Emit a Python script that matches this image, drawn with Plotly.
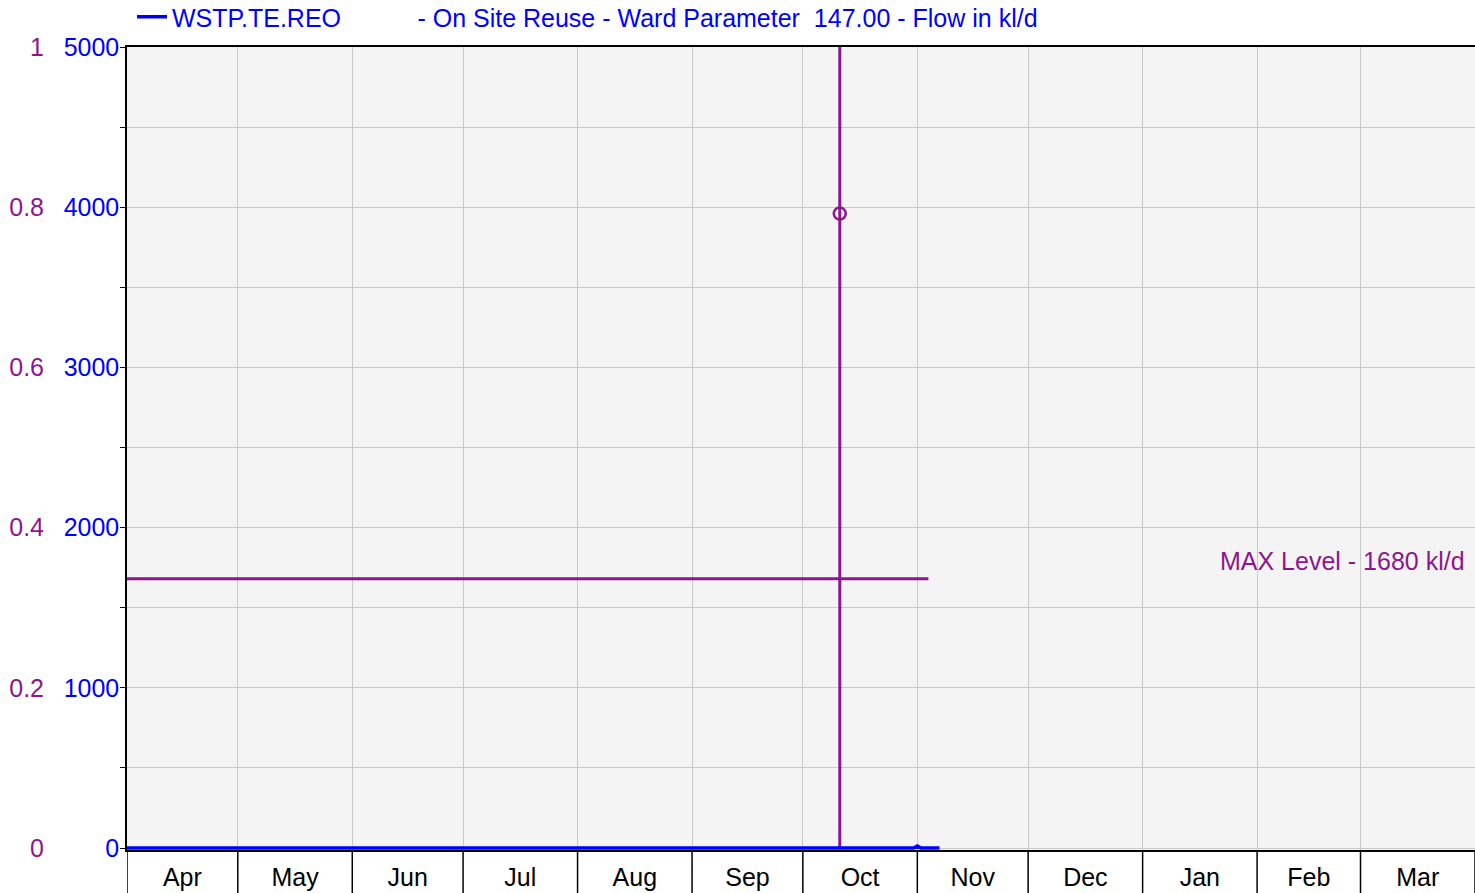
import pandas as pd
import plotly.graph_objects as go

# ---- data ----
months = ["Apr", "May", "Jun", "Jul", "Aug", "Sep", "Oct", "Nov", "Dec", "Jan", "Feb", "Mar"]
period_start = "2018-04-01"
period_end = "2019-04-01"

flow_dates = ["2018-04-01", "2018-10-31", "2018-11-01", "2018-11-02", "2018-11-07"]
flow_values = [0, 0, 12, 0, 0]

max_level_dates = ["2018-04-01", "2018-11-04"]
max_level_values = [1680, 1680]

event_date = "2018-10-11"
event_line_values = [0, 5000]
event_point_value = 3960

legend_label = "WSTP.TE.REO" + " " * 11 + "- On Site Reuse - Ward Parameter  147.00 - Flow in kl/d"
max_label = "MAX Level - 1680 kl/d"

BLUE = "#0000ff"
PURPLE = "#8e1590"
GRID = "#c9c9c9"
FONT = "Liberation Sans, Arial, sans-serif"
FS = 25

fig = go.Figure()

fig.add_trace(go.Scatter(
    x=max_level_dates, y=max_level_values, mode="lines",
    line=dict(color=PURPLE, width=3), showlegend=False, hoverinfo="skip"))

fig.add_trace(go.Scatter(
    x=[event_date, event_date], y=event_line_values, mode="lines",
    line=dict(color=PURPLE, width=3), showlegend=False, hoverinfo="skip"))

fig.add_trace(go.Scatter(
    x=[event_date], y=[event_point_value], mode="markers",
    marker=dict(symbol="circle-open", size=12, color=PURPLE, line=dict(width=2.5, color=PURPLE)),
    showlegend=False))

fig.add_trace(go.Scatter(
    x=flow_dates, y=flow_values, mode="lines", name=legend_label,
    line=dict(color=BLUE, width=3.5), showlegend=True))

# secondary (purple) scale axis, no data
fig.add_trace(go.Scatter(x=[period_start], y=[None], yaxis="y2", showlegend=False, hoverinfo="skip"))

# month separator ticks below the axis
boundaries = pd.date_range(period_start, period_end, freq="MS")
for d in boundaries:
    fig.add_shape(type="line", xref="x", yref="paper", x0=d, x1=d, y0=0, y1=-0.06,
                  line=dict(color="black", width=1.5))

L = 127
W = 1475
H = 893
T = 47
B = 43
PH = H - T - B
fig.update_layout(
    width=W, height=H,
    margin=dict(l=0, r=0, t=T, b=B, autoexpand=False),
    paper_bgcolor="white",
    plot_bgcolor="#f4f4f4",
    font=dict(family=FONT, size=FS),
    showlegend=True,
    legend=dict(x=132 / W, xanchor="left", y=1 + (T - 17) / PH, yanchor="middle",
                bgcolor="rgba(0,0,0,0)",
                font=dict(color=BLUE, size=FS, family=FONT), itemwidth=30,
                borderwidth=0, tracegroupgap=0),
    xaxis=dict(
        type="date", domain=[L / W, 1], range=[period_start, period_end],
        tick0=period_start, dtick="M1", tickformat="%b", ticklabelmode="period",
        showgrid=True, gridcolor=GRID, gridwidth=1,
        ticks="outside", ticklen=4, tickcolor="rgba(0,0,0,0)",
        tickfont=dict(color="black", size=FS, family=FONT),
        showline=True, linecolor="black", linewidth=1.5, mirror=True,
        zeroline=False),
    yaxis=dict(
        range=[-12.5, 5000], tick0=0, dtick=1000,
        showgrid=True, gridcolor=GRID, gridwidth=1,
        ticks="outside", ticklen=5, tickcolor="black", ticklabelstandoff=-4,
        tickfont=dict(color=BLUE, size=FS, family=FONT),
        showline=True, linecolor="black", linewidth=1.5,
        zeroline=False,
        minor=dict(tick0=0, dtick=500, ticks="outside", ticklen=5, tickcolor="black",
                   showgrid=True, gridcolor=GRID)),
    yaxis2=dict(
        overlaying="y", anchor="free", side="left", position=44 / W,
        range=[-0.0025, 1], tick0=0, dtick=0.2,
        showgrid=False, zeroline=False, showline=False, ticks="",
        tickfont=dict(color=PURPLE, size=FS, family=FONT)),
)

fig.add_annotation(
    xref="paper", x=1, xanchor="right", xshift=-8,
    yref="y", y=max_level_values[0], yanchor="bottom", yshift=2,
    text=max_label, showarrow=False,
    font=dict(color=PURPLE, size=FS, family=FONT))

fig.write_html("out.html", config={"displayModeBar": False},
               post_script="document.body.style.margin='0';")
